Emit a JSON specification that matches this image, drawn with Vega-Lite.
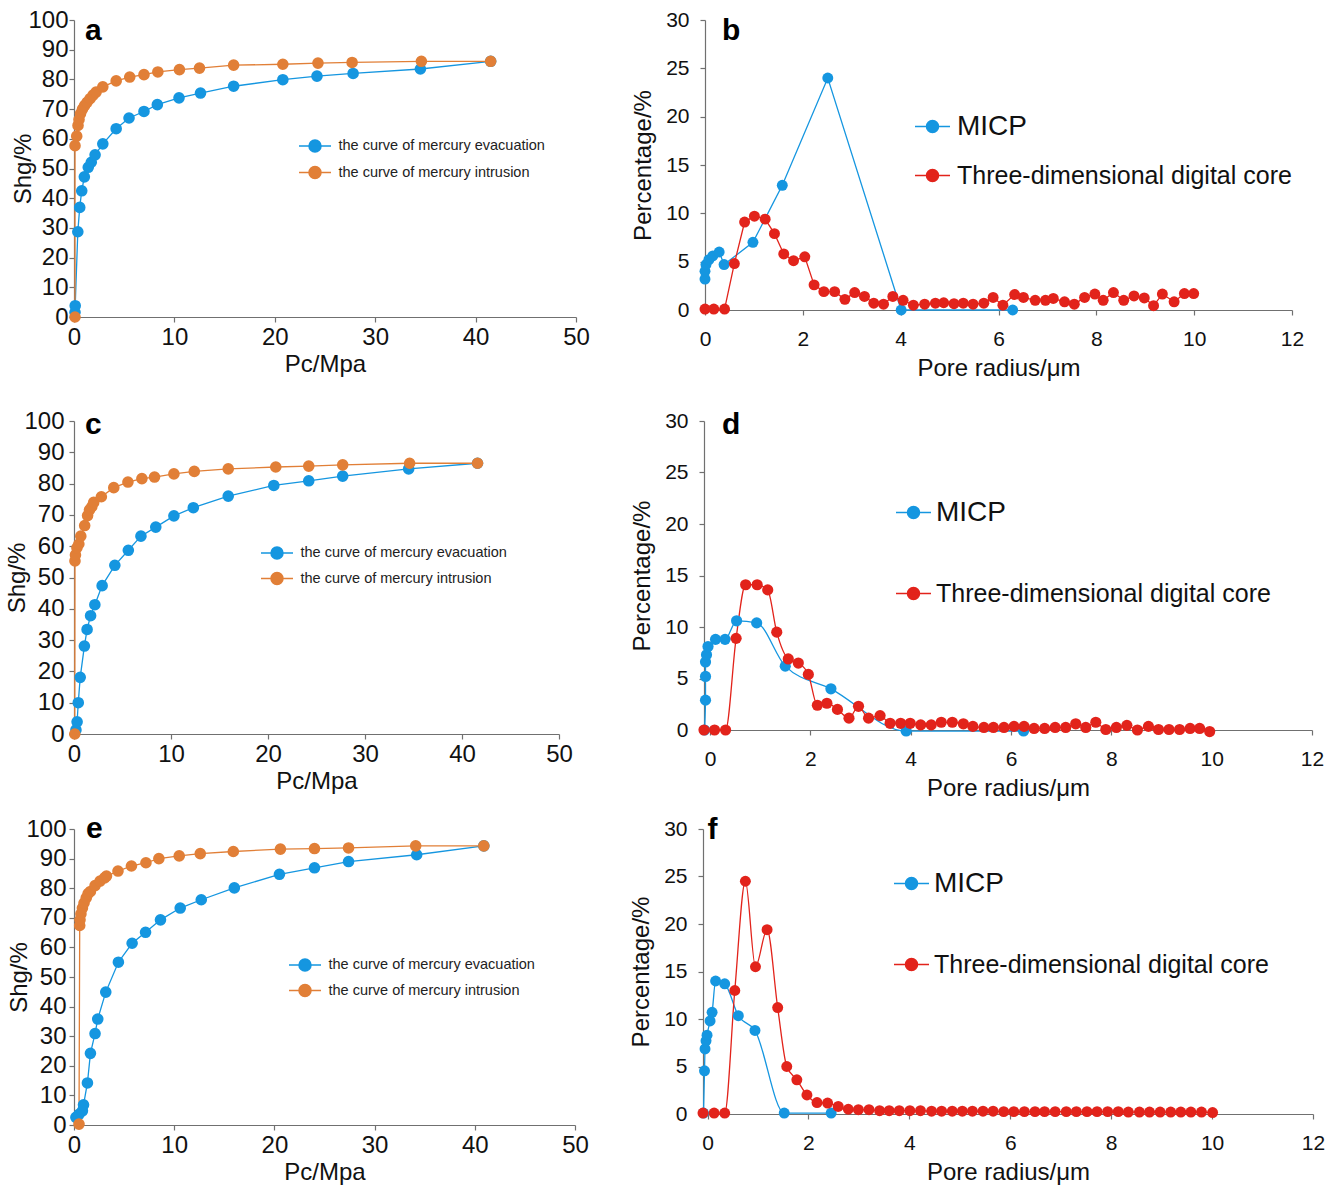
{
  "$schema": "https://vega.github.io/schema/vega-lite/v6.json",
  "padding": {"top": 8, "left": 5, "right": 5, "bottom": 5},
  "config": {
    "view": {"stroke": null},
    "font": "Liberation Sans",
    "axis": {"grid": false, "domainColor": "#707070", "tickColor": "#707070", "domainWidth": 1.2, "tickWidth": 1.2, "tickSize": 5, "labelColor": "#111111", "titleColor": "#111111", "titleFontWeight": "normal", "labelOverlap": false, "labelFlush": false},
    "legend": {"padding": 0, "title": null}
  },
  "datasets": {
    "a": [
      {"i": 1, "c": "the curve of mercury evacuation", "p": 0.1, "s": 1.6},
      {"i": 2, "c": "the curve of mercury evacuation", "p": 0.12, "s": 3.8},
      {"i": 3, "c": "the curve of mercury evacuation", "p": 0.38, "s": 28.7},
      {"i": 4, "c": "the curve of mercury evacuation", "p": 0.57, "s": 36.9},
      {"i": 5, "c": "the curve of mercury evacuation", "p": 0.77, "s": 42.5},
      {"i": 6, "c": "the curve of mercury evacuation", "p": 1.03, "s": 47.2},
      {"i": 7, "c": "the curve of mercury evacuation", "p": 1.42, "s": 50.4},
      {"i": 8, "c": "the curve of mercury evacuation", "p": 1.72, "s": 52.1},
      {"i": 9, "c": "the curve of mercury evacuation", "p": 2.1, "s": 54.6},
      {"i": 10, "c": "the curve of mercury evacuation", "p": 2.87, "s": 58.3},
      {"i": 11, "c": "the curve of mercury evacuation", "p": 4.2, "s": 63.4},
      {"i": 12, "c": "the curve of mercury evacuation", "p": 5.48, "s": 67.0},
      {"i": 13, "c": "the curve of mercury evacuation", "p": 6.97, "s": 69.2},
      {"i": 14, "c": "the curve of mercury evacuation", "p": 8.3, "s": 71.5},
      {"i": 15, "c": "the curve of mercury evacuation", "p": 10.46, "s": 73.8},
      {"i": 16, "c": "the curve of mercury evacuation", "p": 12.6, "s": 75.4},
      {"i": 17, "c": "the curve of mercury evacuation", "p": 15.9, "s": 77.7},
      {"i": 18, "c": "the curve of mercury evacuation", "p": 20.8, "s": 79.9},
      {"i": 19, "c": "the curve of mercury evacuation", "p": 24.2, "s": 81.1},
      {"i": 20, "c": "the curve of mercury evacuation", "p": 27.8, "s": 82.0},
      {"i": 21, "c": "the curve of mercury evacuation", "p": 34.5, "s": 83.5},
      {"i": 22, "c": "the curve of mercury evacuation", "p": 41.5, "s": 86.1},
      {"i": 1, "c": "the curve of mercury intrusion", "p": 0.1, "s": 0},
      {"i": 2, "c": "the curve of mercury intrusion", "p": 0.1, "s": 57.7},
      {"i": 3, "c": "the curve of mercury intrusion", "p": 0.27, "s": 60.9},
      {"i": 4, "c": "the curve of mercury intrusion", "p": 0.4, "s": 64.5},
      {"i": 5, "c": "the curve of mercury intrusion", "p": 0.5, "s": 66.5},
      {"i": 6, "c": "the curve of mercury intrusion", "p": 0.65, "s": 68.5},
      {"i": 7, "c": "the curve of mercury intrusion", "p": 0.85, "s": 70.0},
      {"i": 8, "c": "the curve of mercury intrusion", "p": 1.05, "s": 71.2},
      {"i": 9, "c": "the curve of mercury intrusion", "p": 1.3, "s": 72.3},
      {"i": 10, "c": "the curve of mercury intrusion", "p": 1.6, "s": 73.5},
      {"i": 11, "c": "the curve of mercury intrusion", "p": 1.9, "s": 74.7},
      {"i": 12, "c": "the curve of mercury intrusion", "p": 2.2, "s": 75.7},
      {"i": 13, "c": "the curve of mercury intrusion", "p": 2.87, "s": 77.5},
      {"i": 14, "c": "the curve of mercury intrusion", "p": 4.2, "s": 79.5},
      {"i": 15, "c": "the curve of mercury intrusion", "p": 5.55, "s": 80.8},
      {"i": 16, "c": "the curve of mercury intrusion", "p": 6.97, "s": 81.6},
      {"i": 17, "c": "the curve of mercury intrusion", "p": 8.35, "s": 82.5},
      {"i": 18, "c": "the curve of mercury intrusion", "p": 10.5, "s": 83.3},
      {"i": 19, "c": "the curve of mercury intrusion", "p": 12.5, "s": 83.8},
      {"i": 20, "c": "the curve of mercury intrusion", "p": 15.9, "s": 84.8},
      {"i": 21, "c": "the curve of mercury intrusion", "p": 20.8, "s": 85.1},
      {"i": 22, "c": "the curve of mercury intrusion", "p": 24.3, "s": 85.5},
      {"i": 23, "c": "the curve of mercury intrusion", "p": 27.7, "s": 85.7},
      {"i": 24, "c": "the curve of mercury intrusion", "p": 34.6, "s": 86.1},
      {"i": 25, "c": "the curve of mercury intrusion", "p": 41.5, "s": 86.1}
    ],
    "c": [
      {"i": 1, "c": "the curve of mercury evacuation", "p": 0.2, "s": 1.3},
      {"i": 2, "c": "the curve of mercury evacuation", "p": 0.32, "s": 3.9},
      {"i": 3, "c": "the curve of mercury evacuation", "p": 0.44, "s": 10.0},
      {"i": 4, "c": "the curve of mercury evacuation", "p": 0.64, "s": 18.1},
      {"i": 5, "c": "the curve of mercury evacuation", "p": 1.07, "s": 28.1},
      {"i": 6, "c": "the curve of mercury evacuation", "p": 1.35, "s": 33.4},
      {"i": 7, "c": "the curve of mercury evacuation", "p": 1.71, "s": 37.8},
      {"i": 8, "c": "the curve of mercury evacuation", "p": 2.15, "s": 41.3},
      {"i": 9, "c": "the curve of mercury evacuation", "p": 2.9, "s": 47.4},
      {"i": 10, "c": "the curve of mercury evacuation", "p": 4.21, "s": 53.9},
      {"i": 11, "c": "the curve of mercury evacuation", "p": 5.6, "s": 58.7},
      {"i": 12, "c": "the curve of mercury evacuation", "p": 6.9, "s": 63.2},
      {"i": 13, "c": "the curve of mercury evacuation", "p": 8.43, "s": 66.1},
      {"i": 14, "c": "the curve of mercury evacuation", "p": 10.3, "s": 69.7},
      {"i": 15, "c": "the curve of mercury evacuation", "p": 12.3, "s": 72.3},
      {"i": 16, "c": "the curve of mercury evacuation", "p": 15.9, "s": 76.0},
      {"i": 17, "c": "the curve of mercury evacuation", "p": 20.6, "s": 79.4},
      {"i": 18, "c": "the curve of mercury evacuation", "p": 24.2, "s": 80.9},
      {"i": 19, "c": "the curve of mercury evacuation", "p": 27.7, "s": 82.4},
      {"i": 20, "c": "the curve of mercury evacuation", "p": 34.5, "s": 84.7},
      {"i": 21, "c": "the curve of mercury evacuation", "p": 41.6, "s": 86.5},
      {"i": 1, "c": "the curve of mercury intrusion", "p": 0.08, "s": 0},
      {"i": 2, "c": "the curve of mercury intrusion", "p": 0.1, "s": 55.3},
      {"i": 3, "c": "the curve of mercury intrusion", "p": 0.15, "s": 57.2},
      {"i": 4, "c": "the curve of mercury intrusion", "p": 0.3, "s": 59.5},
      {"i": 5, "c": "the curve of mercury intrusion", "p": 0.5, "s": 60.7},
      {"i": 6, "c": "the curve of mercury intrusion", "p": 0.7, "s": 63.2},
      {"i": 7, "c": "the curve of mercury intrusion", "p": 1.1, "s": 66.6},
      {"i": 8, "c": "the curve of mercury intrusion", "p": 1.4, "s": 69.8},
      {"i": 9, "c": "the curve of mercury intrusion", "p": 1.6, "s": 71.6},
      {"i": 10, "c": "the curve of mercury intrusion", "p": 1.83, "s": 72.6},
      {"i": 11, "c": "the curve of mercury intrusion", "p": 2.03, "s": 74.0},
      {"i": 12, "c": "the curve of mercury intrusion", "p": 2.82, "s": 75.8},
      {"i": 13, "c": "the curve of mercury intrusion", "p": 4.1, "s": 78.7},
      {"i": 14, "c": "the curve of mercury intrusion", "p": 5.56, "s": 80.5},
      {"i": 15, "c": "the curve of mercury intrusion", "p": 7.0, "s": 81.6},
      {"i": 16, "c": "the curve of mercury intrusion", "p": 8.3, "s": 82.1},
      {"i": 17, "c": "the curve of mercury intrusion", "p": 10.3, "s": 83.1},
      {"i": 18, "c": "the curve of mercury intrusion", "p": 12.4, "s": 83.9},
      {"i": 19, "c": "the curve of mercury intrusion", "p": 15.9, "s": 84.7},
      {"i": 20, "c": "the curve of mercury intrusion", "p": 20.8, "s": 85.3},
      {"i": 21, "c": "the curve of mercury intrusion", "p": 24.2, "s": 85.6},
      {"i": 22, "c": "the curve of mercury intrusion", "p": 27.7, "s": 86.0},
      {"i": 23, "c": "the curve of mercury intrusion", "p": 34.6, "s": 86.5},
      {"i": 24, "c": "the curve of mercury intrusion", "p": 41.6, "s": 86.5}
    ],
    "e": [
      {"i": 1, "c": "the curve of mercury evacuation", "p": 0.19, "s": 2.6},
      {"i": 2, "c": "the curve of mercury evacuation", "p": 0.5, "s": 3.6},
      {"i": 3, "c": "the curve of mercury evacuation", "p": 0.84, "s": 4.8},
      {"i": 4, "c": "the curve of mercury evacuation", "p": 0.95, "s": 6.8},
      {"i": 5, "c": "the curve of mercury evacuation", "p": 1.34, "s": 14.2},
      {"i": 6, "c": "the curve of mercury evacuation", "p": 1.64, "s": 24.2},
      {"i": 7, "c": "the curve of mercury evacuation", "p": 2.1, "s": 30.9},
      {"i": 8, "c": "the curve of mercury evacuation", "p": 2.37, "s": 35.8},
      {"i": 9, "c": "the curve of mercury evacuation", "p": 3.17, "s": 44.9},
      {"i": 10, "c": "the curve of mercury evacuation", "p": 4.43, "s": 55.0},
      {"i": 11, "c": "the curve of mercury evacuation", "p": 5.8, "s": 61.4},
      {"i": 12, "c": "the curve of mercury evacuation", "p": 7.14, "s": 65.1},
      {"i": 13, "c": "the curve of mercury evacuation", "p": 8.63, "s": 69.3},
      {"i": 14, "c": "the curve of mercury evacuation", "p": 10.6, "s": 73.3},
      {"i": 15, "c": "the curve of mercury evacuation", "p": 12.7, "s": 76.1},
      {"i": 16, "c": "the curve of mercury evacuation", "p": 16.0, "s": 80.1},
      {"i": 17, "c": "the curve of mercury evacuation", "p": 20.5, "s": 84.7},
      {"i": 18, "c": "the curve of mercury evacuation", "p": 24.0, "s": 86.9},
      {"i": 19, "c": "the curve of mercury evacuation", "p": 27.4, "s": 89.0},
      {"i": 20, "c": "the curve of mercury evacuation", "p": 34.2, "s": 91.3},
      {"i": 21, "c": "the curve of mercury evacuation", "p": 40.9, "s": 94.3},
      {"i": 1, "c": "the curve of mercury intrusion", "p": 0.5, "s": 0.3},
      {"i": 2, "c": "the curve of mercury intrusion", "p": 0.57, "s": 67.4},
      {"i": 3, "c": "the curve of mercury intrusion", "p": 0.6, "s": 69.3},
      {"i": 4, "c": "the curve of mercury intrusion", "p": 0.69, "s": 71.3},
      {"i": 5, "c": "the curve of mercury intrusion", "p": 0.84, "s": 73.3},
      {"i": 6, "c": "the curve of mercury intrusion", "p": 1.0, "s": 75.0},
      {"i": 7, "c": "the curve of mercury intrusion", "p": 1.22, "s": 76.7},
      {"i": 8, "c": "the curve of mercury intrusion", "p": 1.41, "s": 78.2},
      {"i": 9, "c": "the curve of mercury intrusion", "p": 1.64, "s": 78.9},
      {"i": 10, "c": "the curve of mercury intrusion", "p": 2.1, "s": 80.9},
      {"i": 11, "c": "the curve of mercury intrusion", "p": 2.6, "s": 82.4},
      {"i": 12, "c": "the curve of mercury intrusion", "p": 3.05, "s": 83.5},
      {"i": 13, "c": "the curve of mercury intrusion", "p": 3.24, "s": 84.1},
      {"i": 14, "c": "the curve of mercury intrusion", "p": 4.39, "s": 85.8},
      {"i": 15, "c": "the curve of mercury intrusion", "p": 5.73, "s": 87.5},
      {"i": 16, "c": "the curve of mercury intrusion", "p": 7.18, "s": 88.6},
      {"i": 17, "c": "the curve of mercury intrusion", "p": 8.47, "s": 90.0},
      {"i": 18, "c": "the curve of mercury intrusion", "p": 10.5, "s": 90.9},
      {"i": 19, "c": "the curve of mercury intrusion", "p": 12.6, "s": 91.7},
      {"i": 20, "c": "the curve of mercury intrusion", "p": 15.9, "s": 92.4},
      {"i": 21, "c": "the curve of mercury intrusion", "p": 20.6, "s": 93.2},
      {"i": 22, "c": "the curve of mercury intrusion", "p": 24.0, "s": 93.4},
      {"i": 23, "c": "the curve of mercury intrusion", "p": 27.4, "s": 93.6},
      {"i": 24, "c": "the curve of mercury intrusion", "p": 34.1, "s": 94.3},
      {"i": 25, "c": "the curve of mercury intrusion", "p": 40.9, "s": 94.3}
    ],
    "b": [
      {"i": 1, "c": "MICP", "r": 0.0, "v": 3.2},
      {"i": 2, "c": "MICP", "r": 0.0, "v": 4.0},
      {"i": 3, "c": "MICP", "r": 0.02, "v": 4.7},
      {"i": 4, "c": "MICP", "r": 0.08, "v": 5.2},
      {"i": 5, "c": "MICP", "r": 0.16, "v": 5.6},
      {"i": 6, "c": "MICP", "r": 0.29, "v": 6.0},
      {"i": 7, "c": "MICP", "r": 0.39, "v": 4.7},
      {"i": 8, "c": "MICP", "r": 0.98, "v": 7.0},
      {"i": 9, "c": "MICP", "r": 1.58, "v": 12.9},
      {"i": 10, "c": "MICP", "r": 2.51, "v": 24.0},
      {"i": 11, "c": "MICP", "r": 4.01, "v": 0.0},
      {"i": 12, "c": "MICP", "r": 6.29, "v": 0.0},
      {"i": 1, "c": "Three-dimensional digital core", "r": 0.0, "v": 0.1},
      {"i": 2, "c": "Three-dimensional digital core", "r": 0.18, "v": 0.1},
      {"i": 3, "c": "Three-dimensional digital core", "r": 0.4, "v": 0.1},
      {"i": 4, "c": "Three-dimensional digital core", "r": 0.6, "v": 4.8},
      {"i": 5, "c": "Three-dimensional digital core", "r": 0.81, "v": 9.1},
      {"i": 6, "c": "Three-dimensional digital core", "r": 1.01, "v": 9.7},
      {"i": 7, "c": "Three-dimensional digital core", "r": 1.23, "v": 9.4},
      {"i": 8, "c": "Three-dimensional digital core", "r": 1.42, "v": 7.9},
      {"i": 9, "c": "Three-dimensional digital core", "r": 1.61, "v": 5.8},
      {"i": 10, "c": "Three-dimensional digital core", "r": 1.81, "v": 5.1},
      {"i": 11, "c": "Three-dimensional digital core", "r": 2.04, "v": 5.5},
      {"i": 12, "c": "Three-dimensional digital core", "r": 2.23, "v": 2.6},
      {"i": 13, "c": "Three-dimensional digital core", "r": 2.43, "v": 1.9},
      {"i": 14, "c": "Three-dimensional digital core", "r": 2.65, "v": 1.9},
      {"i": 15, "c": "Three-dimensional digital core", "r": 2.86, "v": 1.1},
      {"i": 16, "c": "Three-dimensional digital core", "r": 3.06, "v": 1.8},
      {"i": 17, "c": "Three-dimensional digital core", "r": 3.26, "v": 1.4},
      {"i": 18, "c": "Three-dimensional digital core", "r": 3.45, "v": 0.7},
      {"i": 19, "c": "Three-dimensional digital core", "r": 3.65, "v": 0.6},
      {"i": 20, "c": "Three-dimensional digital core", "r": 3.84, "v": 1.4},
      {"i": 21, "c": "Three-dimensional digital core", "r": 4.05, "v": 1.0},
      {"i": 22, "c": "Three-dimensional digital core", "r": 4.26, "v": 0.5},
      {"i": 23, "c": "Three-dimensional digital core", "r": 4.49, "v": 0.6},
      {"i": 24, "c": "Three-dimensional digital core", "r": 4.71, "v": 0.7},
      {"i": 25, "c": "Three-dimensional digital core", "r": 4.88, "v": 0.75},
      {"i": 26, "c": "Three-dimensional digital core", "r": 5.09, "v": 0.65},
      {"i": 27, "c": "Three-dimensional digital core", "r": 5.28, "v": 0.7},
      {"i": 28, "c": "Three-dimensional digital core", "r": 5.48, "v": 0.6},
      {"i": 29, "c": "Three-dimensional digital core", "r": 5.7, "v": 0.7},
      {"i": 30, "c": "Three-dimensional digital core", "r": 5.89, "v": 1.3},
      {"i": 31, "c": "Three-dimensional digital core", "r": 6.09, "v": 0.5},
      {"i": 32, "c": "Three-dimensional digital core", "r": 6.33, "v": 1.6},
      {"i": 33, "c": "Three-dimensional digital core", "r": 6.51, "v": 1.3},
      {"i": 34, "c": "Three-dimensional digital core", "r": 6.75, "v": 1.0},
      {"i": 35, "c": "Three-dimensional digital core", "r": 6.96, "v": 1.0},
      {"i": 36, "c": "Three-dimensional digital core", "r": 7.12, "v": 1.2},
      {"i": 37, "c": "Three-dimensional digital core", "r": 7.35, "v": 0.85},
      {"i": 38, "c": "Three-dimensional digital core", "r": 7.55, "v": 0.6},
      {"i": 39, "c": "Three-dimensional digital core", "r": 7.76, "v": 1.3},
      {"i": 40, "c": "Three-dimensional digital core", "r": 7.97, "v": 1.65},
      {"i": 41, "c": "Three-dimensional digital core", "r": 8.14, "v": 1.0},
      {"i": 42, "c": "Three-dimensional digital core", "r": 8.35, "v": 1.8},
      {"i": 43, "c": "Three-dimensional digital core", "r": 8.56, "v": 1.0},
      {"i": 44, "c": "Three-dimensional digital core", "r": 8.77, "v": 1.45},
      {"i": 45, "c": "Three-dimensional digital core", "r": 8.98, "v": 1.25},
      {"i": 46, "c": "Three-dimensional digital core", "r": 9.17, "v": 0.45},
      {"i": 47, "c": "Three-dimensional digital core", "r": 9.35, "v": 1.65},
      {"i": 48, "c": "Three-dimensional digital core", "r": 9.59, "v": 0.85},
      {"i": 49, "c": "Three-dimensional digital core", "r": 9.8, "v": 1.7},
      {"i": 50, "c": "Three-dimensional digital core", "r": 9.99, "v": 1.7}
    ],
    "d": [
      {"i": 1, "c": "MICP", "r": -0.11, "v": 0.0},
      {"i": 2, "c": "MICP", "r": -0.09, "v": 2.9},
      {"i": 3, "c": "MICP", "r": -0.09, "v": 5.2},
      {"i": 4, "c": "MICP", "r": -0.09, "v": 6.6},
      {"i": 5, "c": "MICP", "r": -0.07, "v": 7.3},
      {"i": 6, "c": "MICP", "r": -0.04, "v": 8.1},
      {"i": 7, "c": "MICP", "r": 0.11, "v": 8.8},
      {"i": 8, "c": "MICP", "r": 0.3, "v": 8.8},
      {"i": 9, "c": "MICP", "r": 0.53, "v": 10.6},
      {"i": 10, "c": "MICP", "r": 0.93, "v": 10.4},
      {"i": 11, "c": "MICP", "r": 1.5, "v": 6.2},
      {"i": 12, "c": "MICP", "r": 2.41, "v": 4.0},
      {"i": 13, "c": "MICP", "r": 3.91, "v": -0.1},
      {"i": 14, "c": "MICP", "r": 6.25, "v": -0.1},
      {"i": 1, "c": "Three-dimensional digital core", "r": -0.12, "v": 0.0},
      {"i": 2, "c": "Three-dimensional digital core", "r": 0.09, "v": 0.0},
      {"i": 3, "c": "Three-dimensional digital core", "r": 0.31, "v": 0.0},
      {"i": 4, "c": "Three-dimensional digital core", "r": 0.52, "v": 8.9},
      {"i": 5, "c": "Three-dimensional digital core", "r": 0.71, "v": 14.1},
      {"i": 6, "c": "Three-dimensional digital core", "r": 0.94, "v": 14.1},
      {"i": 7, "c": "Three-dimensional digital core", "r": 1.15, "v": 13.6},
      {"i": 8, "c": "Three-dimensional digital core", "r": 1.33, "v": 9.5},
      {"i": 9, "c": "Three-dimensional digital core", "r": 1.56, "v": 6.9},
      {"i": 10, "c": "Three-dimensional digital core", "r": 1.76, "v": 6.5},
      {"i": 11, "c": "Three-dimensional digital core", "r": 1.96, "v": 5.4},
      {"i": 12, "c": "Three-dimensional digital core", "r": 2.14, "v": 2.4},
      {"i": 13, "c": "Three-dimensional digital core", "r": 2.33, "v": 2.6},
      {"i": 14, "c": "Three-dimensional digital core", "r": 2.54, "v": 2.0},
      {"i": 15, "c": "Three-dimensional digital core", "r": 2.77, "v": 1.15},
      {"i": 16, "c": "Three-dimensional digital core", "r": 2.96, "v": 2.3},
      {"i": 17, "c": "Three-dimensional digital core", "r": 3.16, "v": 1.15},
      {"i": 18, "c": "Three-dimensional digital core", "r": 3.39, "v": 1.4},
      {"i": 19, "c": "Three-dimensional digital core", "r": 3.59, "v": 0.65},
      {"i": 20, "c": "Three-dimensional digital core", "r": 3.8, "v": 0.65},
      {"i": 21, "c": "Three-dimensional digital core", "r": 3.99, "v": 0.65},
      {"i": 22, "c": "Three-dimensional digital core", "r": 4.2, "v": 0.5},
      {"i": 23, "c": "Three-dimensional digital core", "r": 4.41, "v": 0.5},
      {"i": 24, "c": "Three-dimensional digital core", "r": 4.61, "v": 0.75},
      {"i": 25, "c": "Three-dimensional digital core", "r": 4.83, "v": 0.75},
      {"i": 26, "c": "Three-dimensional digital core", "r": 5.05, "v": 0.6},
      {"i": 27, "c": "Three-dimensional digital core", "r": 5.24, "v": 0.35},
      {"i": 28, "c": "Three-dimensional digital core", "r": 5.46, "v": 0.25},
      {"i": 29, "c": "Three-dimensional digital core", "r": 5.65, "v": 0.25},
      {"i": 30, "c": "Three-dimensional digital core", "r": 5.86, "v": 0.25},
      {"i": 31, "c": "Three-dimensional digital core", "r": 6.06, "v": 0.35},
      {"i": 32, "c": "Three-dimensional digital core", "r": 6.26, "v": 0.35},
      {"i": 33, "c": "Three-dimensional digital core", "r": 6.46, "v": 0.15},
      {"i": 34, "c": "Three-dimensional digital core", "r": 6.67, "v": 0.15},
      {"i": 35, "c": "Three-dimensional digital core", "r": 6.88, "v": 0.25},
      {"i": 36, "c": "Three-dimensional digital core", "r": 7.09, "v": 0.25},
      {"i": 37, "c": "Three-dimensional digital core", "r": 7.29, "v": 0.6},
      {"i": 38, "c": "Three-dimensional digital core", "r": 7.49, "v": 0.25},
      {"i": 39, "c": "Three-dimensional digital core", "r": 7.69, "v": 0.75},
      {"i": 40, "c": "Three-dimensional digital core", "r": 7.89, "v": 0.05},
      {"i": 41, "c": "Three-dimensional digital core", "r": 8.1, "v": 0.25},
      {"i": 42, "c": "Three-dimensional digital core", "r": 8.31, "v": 0.45},
      {"i": 43, "c": "Three-dimensional digital core", "r": 8.52, "v": 0.0},
      {"i": 44, "c": "Three-dimensional digital core", "r": 8.74, "v": 0.35},
      {"i": 45, "c": "Three-dimensional digital core", "r": 8.94, "v": 0.05},
      {"i": 46, "c": "Three-dimensional digital core", "r": 9.15, "v": 0.05},
      {"i": 47, "c": "Three-dimensional digital core", "r": 9.36, "v": 0.05},
      {"i": 48, "c": "Three-dimensional digital core", "r": 9.57, "v": 0.15},
      {"i": 49, "c": "Three-dimensional digital core", "r": 9.76, "v": 0.15},
      {"i": 50, "c": "Three-dimensional digital core", "r": 9.96, "v": -0.15}
    ],
    "f": [
      {"i": 1, "c": "MICP", "r": -0.08, "v": 0.1},
      {"i": 2, "c": "MICP", "r": -0.06, "v": 4.55},
      {"i": 3, "c": "MICP", "r": -0.05, "v": 6.85},
      {"i": 4, "c": "MICP", "r": -0.03, "v": 7.7},
      {"i": 5, "c": "MICP", "r": -0.01, "v": 8.3},
      {"i": 6, "c": "MICP", "r": 0.05, "v": 9.8},
      {"i": 7, "c": "MICP", "r": 0.09, "v": 10.7},
      {"i": 8, "c": "MICP", "r": 0.16, "v": 14.0},
      {"i": 9, "c": "MICP", "r": 0.34, "v": 13.7},
      {"i": 10, "c": "MICP", "r": 0.61, "v": 10.35},
      {"i": 11, "c": "MICP", "r": 0.94, "v": 8.8},
      {"i": 12, "c": "MICP", "r": 1.52, "v": 0.1},
      {"i": 13, "c": "MICP", "r": 2.45, "v": 0.1},
      {"i": 1, "c": "Three-dimensional digital core", "r": -0.09, "v": 0.1},
      {"i": 2, "c": "Three-dimensional digital core", "r": 0.13, "v": 0.1},
      {"i": 3, "c": "Three-dimensional digital core", "r": 0.34, "v": 0.1},
      {"i": 4, "c": "Three-dimensional digital core", "r": 0.54, "v": 13.0},
      {"i": 5, "c": "Three-dimensional digital core", "r": 0.75, "v": 24.5},
      {"i": 6, "c": "Three-dimensional digital core", "r": 0.95, "v": 15.5},
      {"i": 7, "c": "Three-dimensional digital core", "r": 1.18, "v": 19.4},
      {"i": 8, "c": "Three-dimensional digital core", "r": 1.39, "v": 11.2},
      {"i": 9, "c": "Three-dimensional digital core", "r": 1.57, "v": 5.0},
      {"i": 10, "c": "Three-dimensional digital core", "r": 1.77, "v": 3.6},
      {"i": 11, "c": "Three-dimensional digital core", "r": 1.97, "v": 2.0},
      {"i": 12, "c": "Three-dimensional digital core", "r": 2.17, "v": 1.2},
      {"i": 13, "c": "Three-dimensional digital core", "r": 2.38, "v": 1.15},
      {"i": 14, "c": "Three-dimensional digital core", "r": 2.59, "v": 0.8},
      {"i": 15, "c": "Three-dimensional digital core", "r": 2.79, "v": 0.5},
      {"i": 16, "c": "Three-dimensional digital core", "r": 2.99, "v": 0.45},
      {"i": 17, "c": "Three-dimensional digital core", "r": 3.2, "v": 0.45},
      {"i": 18, "c": "Three-dimensional digital core", "r": 3.41, "v": 0.35},
      {"i": 19, "c": "Three-dimensional digital core", "r": 3.6, "v": 0.35},
      {"i": 20, "c": "Three-dimensional digital core", "r": 3.8, "v": 0.35},
      {"i": 21, "c": "Three-dimensional digital core", "r": 4.01, "v": 0.35},
      {"i": 22, "c": "Three-dimensional digital core", "r": 4.22, "v": 0.35},
      {"i": 23, "c": "Three-dimensional digital core", "r": 4.44, "v": 0.3},
      {"i": 24, "c": "Three-dimensional digital core", "r": 4.64, "v": 0.3},
      {"i": 25, "c": "Three-dimensional digital core", "r": 4.85, "v": 0.3},
      {"i": 26, "c": "Three-dimensional digital core", "r": 5.05, "v": 0.3},
      {"i": 27, "c": "Three-dimensional digital core", "r": 5.25, "v": 0.3},
      {"i": 28, "c": "Three-dimensional digital core", "r": 5.46, "v": 0.3},
      {"i": 29, "c": "Three-dimensional digital core", "r": 5.66, "v": 0.3},
      {"i": 30, "c": "Three-dimensional digital core", "r": 5.87, "v": 0.25},
      {"i": 31, "c": "Three-dimensional digital core", "r": 6.07, "v": 0.25},
      {"i": 32, "c": "Three-dimensional digital core", "r": 6.28, "v": 0.25},
      {"i": 33, "c": "Three-dimensional digital core", "r": 6.49, "v": 0.25},
      {"i": 34, "c": "Three-dimensional digital core", "r": 6.68, "v": 0.25},
      {"i": 35, "c": "Three-dimensional digital core", "r": 6.89, "v": 0.25},
      {"i": 36, "c": "Three-dimensional digital core", "r": 7.11, "v": 0.25},
      {"i": 37, "c": "Three-dimensional digital core", "r": 7.31, "v": 0.25},
      {"i": 38, "c": "Three-dimensional digital core", "r": 7.52, "v": 0.25},
      {"i": 39, "c": "Three-dimensional digital core", "r": 7.72, "v": 0.25},
      {"i": 40, "c": "Three-dimensional digital core", "r": 7.93, "v": 0.25},
      {"i": 41, "c": "Three-dimensional digital core", "r": 8.14, "v": 0.25},
      {"i": 42, "c": "Three-dimensional digital core", "r": 8.34, "v": 0.2},
      {"i": 43, "c": "Three-dimensional digital core", "r": 8.56, "v": 0.2},
      {"i": 44, "c": "Three-dimensional digital core", "r": 8.76, "v": 0.2},
      {"i": 45, "c": "Three-dimensional digital core", "r": 8.97, "v": 0.2},
      {"i": 46, "c": "Three-dimensional digital core", "r": 9.18, "v": 0.2},
      {"i": 47, "c": "Three-dimensional digital core", "r": 9.38, "v": 0.2},
      {"i": 48, "c": "Three-dimensional digital core", "r": 9.58, "v": 0.2},
      {"i": 49, "c": "Three-dimensional digital core", "r": 9.79, "v": 0.2},
      {"i": 50, "c": "Three-dimensional digital core", "r": 10.01, "v": 0.15}
    ]
  },
  "resolve": {"scale": {"color": "independent"}, "legend": {"color": "independent"}},
  "columns": 1,
  "spacing": 29,
  "concat": [
    {
      "spacing": 41,
      "resolve": {"scale": {"color": "independent"}, "legend": {"color": "independent"}},
      "hconcat": [
        {
          "width": 502, "height": 297,
          "data": {"name": "a"},
          "layer": [
            {"mark": {"type": "line", "strokeWidth": 1.3},
             "encoding": {
               "x": {"field": "p", "type": "quantitative", "scale": {"domain": [0, 50], "nice": false}, "axis": {"values": [0, 10, 20, 30, 40, 50], "title": "Pc/Mpa", "labelFontSize": 24, "titleFontSize": 24, "labelPadding": 3, "titlePadding": 3, "labelOverlap": false}},
               "y": {"field": "s", "type": "quantitative", "scale": {"domain": [0, 100], "nice": false}, "axis": {"tickCount": 11, "values": [0, 10, 20, 30, 40, 50, 60, 70, 80, 90, 100], "title": "Shg/%", "labelFontSize": 24, "titleFontSize": 24, "labelPadding": 1, "titlePadding": -8, "labelOverlap": false}},
               "color": {"field": "c", "type": "nominal", "scale": {"domain": ["the curve of mercury evacuation", "the curve of mercury intrusion"], "range": ["#1596e0", "#e17f37"]},
                 "legend": {"orient": "none", "legendX": 230, "legendY": 115, "symbolType": "M-1.6,0H1.6M-0.6,0A0.6,0.6,0,1,1,0.6,0A0.6,0.6,0,1,1,-0.6,0Z", "symbolSize": 400, "symbolStrokeWidth": 1.5, "labelFontSize": 14.5, "labelOffset": 12.5, "rowPadding": 6.5, "labelColor": "#222222", "labelLimit": 500,
                   "encode": {"symbols": {"update": {"fill": {"signal": "indexof(datum.value, 'evacuation') >= 0 ? '#1596e0' : '#e17f37'"}, "stroke": {"signal": "indexof(datum.value, 'evacuation') >= 0 ? '#1596e0' : '#e17f37'"}, "opacity": {"value": 1}}}}}},
               "order": {"field": "i", "type": "quantitative"}}},
            {"mark": {"type": "point", "filled": true, "size": 135, "opacity": 1},
             "encoding": {"x": {"field": "p", "type": "quantitative"}, "y": {"field": "s", "type": "quantitative"}, "color": {"field": "c", "type": "nominal"}}},
            {"data": {"values": [{}]},
             "mark": {"type": "text", "text": "a", "fontSize": 30, "fontWeight": "bold", "align": "left", "baseline": "alphabetic", "color": "#000000"},
             "encoding": {"x": {"datum": 1.1}, "y": {"datum": 93.3}}}
          ]
        },
        {
          "width": 587, "height": 290,
          "data": {"name": "b"},
          "layer": [
            {"mark": {"type": "line", "strokeWidth": 1.3},
             "encoding": {
               "x": {"field": "r", "type": "quantitative", "scale": {"domain": [0, 12], "nice": false}, "axis": {"values": [0, 2, 4, 6, 8, 10, 12], "title": "Pore radius/μm", "labelFontSize": 21, "titleFontSize": 24, "labelPadding": 13, "titlePadding": 7, "labelOverlap": false}},
               "y": {"field": "v", "type": "quantitative", "scale": {"domain": [0, 30], "nice": false}, "axis": {"tickCount": 7, "values": [0, 5, 10, 15, 20, 25, 30], "title": "Percentage/%", "labelFontSize": 21, "titleFontSize": 24, "labelPadding": 11, "titlePadding": 10, "labelOverlap": false}},
               "color": {"field": "c", "type": "nominal", "scale": {"domain": ["MICP", "Three-dimensional digital core"], "range": ["#1596e0", "#e2231b"]},
                 "legend": {"orient": "none", "legendX": 215, "legendY": 94, "symbolType": "M-1.75,0H1.75M-0.6,0A0.6,0.6,0,1,1,0.6,0A0.6,0.6,0,1,1,-0.6,0Z", "symbolSize": 400, "symbolStrokeWidth": 1.5, "labelFontSize": 25, "labelOffset": 12, "rowPadding": 22, "labelColor": "#111111", "labelLimit": 500,
                   "encode": {"symbols": {"update": {"fill": {"signal": "datum.value === 'MICP' ? '#1596e0' : '#e2231b'"}, "stroke": {"signal": "datum.value === 'MICP' ? '#1596e0' : '#e2231b'"}, "opacity": {"value": 1}}},
                              "labels": {"update": {"fontSize": {"signal": "datum.value === 'MICP' ? 28 : 25"}}}}}},
               "order": {"field": "i", "type": "quantitative"}}},
            {"mark": {"type": "point", "filled": true, "size": 120, "opacity": 1},
             "encoding": {"x": {"field": "r", "type": "quantitative"}, "y": {"field": "v", "type": "quantitative"}, "color": {"field": "c", "type": "nominal"}}},
            {"data": {"values": [{}]},
             "mark": {"type": "text", "text": "b", "fontSize": 30, "fontWeight": "bold", "align": "left", "baseline": "alphabetic", "color": "#000000"},
             "encoding": {"x": {"datum": 0.35}, "y": {"datum": 27.9}}}
          ]
        }
      ]
    },
    {
      "columns": 1,
      "spacing": 13,
      "resolve": {"scale": {"color": "independent"}, "legend": {"color": "independent"}},
      "concat": [
        {
          "spacing": 57,
          "resolve": {"scale": {"color": "independent"}, "legend": {"color": "independent"}},
          "hconcat": [
            {
              "width": 485, "height": 313,
              "data": {"name": "c"},
              "layer": [
                {"mark": {"type": "line", "strokeWidth": 1.3},
                 "encoding": {
                   "x": {"field": "p", "type": "quantitative", "scale": {"domain": [0, 50], "nice": false}, "axis": {"values": [0, 10, 20, 30, 40, 50], "title": "Pc/Mpa", "labelFontSize": 24, "titleFontSize": 24, "labelPadding": 3, "titlePadding": 3, "labelOverlap": false}},
                   "y": {"field": "s", "type": "quantitative", "scale": {"domain": [0, 100], "nice": false}, "axis": {"tickCount": 11, "values": [0, 10, 20, 30, 40, 50, 60, 70, 80, 90, 100], "title": "Shg/%", "labelFontSize": 24, "titleFontSize": 24, "labelPadding": 5, "titlePadding": -6, "labelOverlap": false}},
                   "color": {"field": "c", "type": "nominal", "scale": {"domain": ["the curve of mercury evacuation", "the curve of mercury intrusion"], "range": ["#1596e0", "#e17f37"]},
                     "legend": {"orient": "none", "legendX": 192, "legendY": 121, "symbolType": "M-1.6,0H1.6M-0.6,0A0.6,0.6,0,1,1,0.6,0A0.6,0.6,0,1,1,-0.6,0Z", "symbolSize": 400, "symbolStrokeWidth": 1.5, "labelFontSize": 14.5, "labelOffset": 12.5, "rowPadding": 5.5, "labelColor": "#222222", "labelLimit": 500,
                       "encode": {"symbols": {"update": {"fill": {"signal": "indexof(datum.value, 'evacuation') >= 0 ? '#1596e0' : '#e17f37'"}, "stroke": {"signal": "indexof(datum.value, 'evacuation') >= 0 ? '#1596e0' : '#e17f37'"}, "opacity": {"value": 1}}}}}},
                   "order": {"field": "i", "type": "quantitative"}}},
                {"mark": {"type": "point", "filled": true, "size": 135, "opacity": 1},
                 "encoding": {"x": {"field": "p", "type": "quantitative"}, "y": {"field": "s", "type": "quantitative"}, "color": {"field": "c", "type": "nominal"}}},
                {"data": {"values": [{}]},
                 "mark": {"type": "text", "text": "c", "fontSize": 30, "fontWeight": "bold", "align": "left", "baseline": "alphabetic", "color": "#000000"},
                 "encoding": {"x": {"datum": 1.13}, "y": {"datum": 96.0}}}
              ]
            },
            {
              "width": 608, "height": 309,
              "data": {"name": "d"},
              "layer": [
                {"mark": {"type": "line", "strokeWidth": 1.3, "interpolate": "monotone"},
                 "encoding": {
                   "x": {"field": "r", "type": "quantitative", "scale": {"domain": [-0.12, 12], "nice": false, "zero": false}, "axis": {"values": [0, 2, 4, 6, 8, 10, 12], "title": "Pore radius/μm", "labelFontSize": 21, "titleFontSize": 24, "labelPadding": 13, "titlePadding": 7, "labelOverlap": false}},
                   "y": {"field": "v", "type": "quantitative", "scale": {"domain": [0, 30], "nice": false}, "axis": {"tickCount": 7, "values": [0, 5, 10, 15, 20, 25, 30], "title": "Percentage/%", "labelFontSize": 21, "titleFontSize": 24, "labelPadding": 11, "titlePadding": 10, "labelOverlap": false}},
                   "color": {"field": "c", "type": "nominal", "scale": {"domain": ["MICP", "Three-dimensional digital core"], "range": ["#1596e0", "#e2231b"]},
                     "legend": {"orient": "none", "legendX": 197, "legendY": 79, "symbolType": "M-1.75,0H1.75M-0.6,0A0.6,0.6,0,1,1,0.6,0A0.6,0.6,0,1,1,-0.6,0Z", "symbolSize": 400, "symbolStrokeWidth": 1.5, "labelFontSize": 25, "labelOffset": 10, "rowPadding": 54, "labelColor": "#111111", "labelLimit": 500,
                       "encode": {"symbols": {"update": {"fill": {"signal": "datum.value === 'MICP' ? '#1596e0' : '#e2231b'"}, "stroke": {"signal": "datum.value === 'MICP' ? '#1596e0' : '#e2231b'"}, "opacity": {"value": 1}}},
                                  "labels": {"update": {"fontSize": {"signal": "datum.value === 'MICP' ? 28 : 25"}}}}}},
                   "order": {"field": "i", "type": "quantitative"}}},
                {"mark": {"type": "point", "filled": true, "size": 125, "opacity": 1},
                 "encoding": {"x": {"field": "r", "type": "quantitative"}, "y": {"field": "v", "type": "quantitative"}, "color": {"field": "c", "type": "nominal"}}},
                {"data": {"values": [{}]},
                 "mark": {"type": "text", "text": "d", "fontSize": 30, "fontWeight": "bold", "align": "left", "baseline": "alphabetic", "color": "#000000"},
                 "encoding": {"x": {"datum": 0.24}, "y": {"datum": 28.7}}}
              ]
            }
          ]
        },
        {
          "spacing": 40,
          "resolve": {"scale": {"color": "independent"}, "legend": {"color": "independent"}},
          "hconcat": [
            {
              "width": 501, "height": 296,
              "data": {"name": "e"},
              "layer": [
                {"mark": {"type": "line", "strokeWidth": 1.3},
                 "encoding": {
                   "x": {"field": "p", "type": "quantitative", "scale": {"domain": [0, 50], "nice": false}, "axis": {"values": [0, 10, 20, 30, 40, 50], "title": "Pc/Mpa", "labelFontSize": 24, "titleFontSize": 24, "labelPadding": 3, "titlePadding": 3, "labelOverlap": false}},
                   "y": {"field": "s", "type": "quantitative", "scale": {"domain": [0, 100], "nice": false}, "axis": {"tickCount": 11, "values": [0, 10, 20, 30, 40, 50, 60, 70, 80, 90, 100], "title": "Shg/%", "labelFontSize": 24, "titleFontSize": 24, "labelPadding": 3, "titlePadding": -6, "labelOverlap": false}},
                   "color": {"field": "c", "type": "nominal", "scale": {"domain": ["the curve of mercury evacuation", "the curve of mercury intrusion"], "range": ["#1596e0", "#e17f37"]},
                     "legend": {"orient": "none", "legendX": 220, "legendY": 125, "symbolType": "M-1.6,0H1.6M-0.6,0A0.6,0.6,0,1,1,0.6,0A0.6,0.6,0,1,1,-0.6,0Z", "symbolSize": 400, "symbolStrokeWidth": 1.5, "labelFontSize": 14.5, "labelOffset": 12.5, "rowPadding": 5.5, "labelColor": "#222222", "labelLimit": 500,
                       "encode": {"symbols": {"update": {"fill": {"signal": "indexof(datum.value, 'evacuation') >= 0 ? '#1596e0' : '#e17f37'"}, "stroke": {"signal": "indexof(datum.value, 'evacuation') >= 0 ? '#1596e0' : '#e17f37'"}, "opacity": {"value": 1}}}}}},
                   "order": {"field": "i", "type": "quantitative"}}},
                {"mark": {"type": "point", "filled": true, "size": 135, "opacity": 1},
                 "encoding": {"x": {"field": "p", "type": "quantitative"}, "y": {"field": "s", "type": "quantitative"}, "color": {"field": "c", "type": "nominal"}}},
                {"data": {"values": [{}]},
                 "mark": {"type": "text", "text": "e", "fontSize": 30, "fontWeight": "bold", "align": "left", "baseline": "alphabetic", "color": "#000000"},
                 "encoding": {"x": {"datum": 1.2}, "y": {"datum": 97.0}}}
              ]
            },
            {
              "width": 610, "height": 285,
              "data": {"name": "f"},
              "layer": [
                {"mark": {"type": "line", "strokeWidth": 1.3, "interpolate": "monotone"},
                 "encoding": {
                   "x": {"field": "r", "type": "quantitative", "scale": {"domain": [-0.09, 12], "nice": false, "zero": false}, "axis": {"values": [0, 2, 4, 6, 8, 10, 12], "title": "Pore radius/μm", "labelFontSize": 21, "titleFontSize": 24, "labelPadding": 13, "titlePadding": 7, "labelOverlap": false}},
                   "y": {"field": "v", "type": "quantitative", "scale": {"domain": [0, 30], "nice": false}, "axis": {"tickCount": 7, "values": [0, 5, 10, 15, 20, 25, 30], "title": "Percentage/%", "labelFontSize": 21, "titleFontSize": 24, "labelPadding": 11, "titlePadding": 10, "labelOverlap": false}},
                   "color": {"field": "c", "type": "nominal", "scale": {"domain": ["MICP", "Three-dimensional digital core"], "range": ["#1596e0", "#e2231b"]},
                     "legend": {"orient": "none", "legendX": 196, "legendY": 42, "symbolType": "M-1.75,0H1.75M-0.6,0A0.6,0.6,0,1,1,0.6,0A0.6,0.6,0,1,1,-0.6,0Z", "symbolSize": 400, "symbolStrokeWidth": 1.5, "labelFontSize": 25, "labelOffset": 10, "rowPadding": 54, "labelColor": "#111111", "labelLimit": 500,
                       "encode": {"symbols": {"update": {"fill": {"signal": "datum.value === 'MICP' ? '#1596e0' : '#e2231b'"}, "stroke": {"signal": "datum.value === 'MICP' ? '#1596e0' : '#e2231b'"}, "opacity": {"value": 1}}},
                                  "labels": {"update": {"fontSize": {"signal": "datum.value === 'MICP' ? 28 : 25"}}}}}},
                   "order": {"field": "i", "type": "quantitative"}}},
                {"mark": {"type": "point", "filled": true, "size": 120, "opacity": 1},
                 "encoding": {"x": {"field": "r", "type": "quantitative"}, "y": {"field": "v", "type": "quantitative"}, "color": {"field": "c", "type": "nominal"}}},
                {"data": {"values": [{}]},
                 "mark": {"type": "text", "text": "f", "fontSize": 30, "fontWeight": "bold", "align": "left", "baseline": "alphabetic", "color": "#000000"},
                 "encoding": {"x": {"datum": 0.0}, "y": {"datum": 28.9}}}
              ]
            }
          ]
        }
      ]
    }
  ]
}
